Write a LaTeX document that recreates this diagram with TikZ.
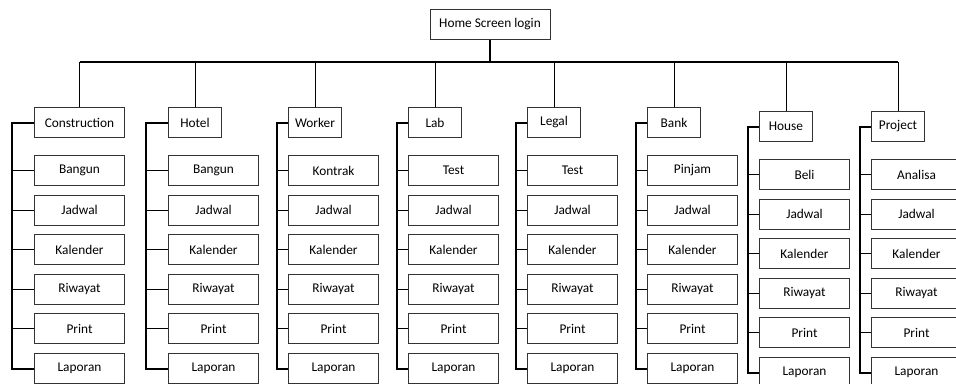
\documentclass[tikz,border=0pt]{standalone}
\usepackage{fontspec}
\setmainfont{Carlito}

\begin{document}
\begin{tikzpicture}[x = 0.75pt, y = -0.75pt, font = \fontsize{10}{12}\selectfont,
	box/.style = {draw = black!80, line width = 0.75pt, minimum height = 22.5pt, inner sep = 0pt},
	link/.style = {line width = 0.75pt},
	spine/.style = {line width = 1.5pt}]

	% Definition

	\def\gap{39.6} 		% Distance between two pages of a menu

	% Frame of the page

	\useasboundingbox (0, 0) rectangle (956, 383);

	% Root screen

	\node [box, minimum width = 90pt] (home) at (490, 24) {Home Screen login};
	\coordinate (bus) at (490, 62);
	\draw [spine] (home.south) -- (bus);

	% Menus with their pages

	\foreach \col/\lx/\dy/\off/\w/\head/\task in
		{con/34/0/22/90/Construction/Bangun, hot/168/0/22/53/Hotel/Bangun,
		 wor/288/0/11/53/Worker/Kontrak, lab/408/0/11/53/Lab/Test,
		 leg/527/0/11/53/Legal/Test, ban/647/0/11/53/Bank/Pinjam,
		 hou/759/4/11/53/House/Beli, pro/871/4/11/53/Project/Analisa}
	{
		\node [box, minimum width = \w*0.75pt, anchor = north west] (\col) at (\lx, 107 + \dy) {\head};
		\draw [link] (\col.north) -- (\col.north |- bus);
		\coordinate (\col-spine) at ([xshift = -\off*0.75pt] \col.west);
		\foreach \page [count = \i] in {\task, Jadwal, Kalender, Riwayat, Print, Laporan}
		{
			\node [box, minimum width = 67.5pt, anchor = north west] (\col-\i) at (\lx, 155 + \dy + \gap*\i - \gap) {\page};
			\draw [link] (\col-\i.west) -- (\col-\i.west -| \col-spine);
		}
		\draw [spine] (\col.west) -- (\col-spine) |- (\col-6.west);
	}

	% Bus between the menus

	\draw [spine] (con.north |- bus) -- (pro.north |- bus);

\end{tikzpicture}
\end{document}
